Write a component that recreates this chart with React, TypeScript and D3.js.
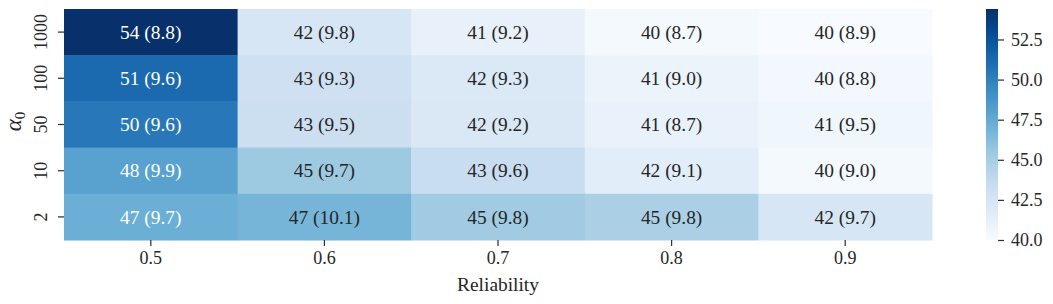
import React, { useEffect, useRef } from 'react';
import * as d3 from 'd3';

// Reliability (columns) and alpha_0 (rows, top to bottom)
const reliability = ['0.5', '0.6', '0.7', '0.8', '0.9'];
const alphas = ['1000', '100', '50', '10', '2'];

// mean accuracy per cell
const means = [
  [54.4, 42.4, 41.1, 40.2, 40.0],
  [51.2, 43.0, 42.0, 40.9, 40.3],
  [50.4, 43.2, 42.1, 41.0, 40.6],
  [48.0, 45.4, 43.4, 41.6, 40.2],
  [47.2, 46.8, 45.3, 44.8, 42.4],
];

// standard deviation shown in brackets
const stds = [
  [8.8, 9.8, 9.2, 8.7, 8.9],
  [9.6, 9.3, 9.3, 9.0, 8.8],
  [9.6, 9.5, 9.2, 8.7, 9.5],
  [9.9, 9.7, 9.6, 9.1, 9.0],
  [9.7, 10.1, 9.8, 9.8, 9.7],
];

const colorbarTicks = [40.0, 42.5, 45.0, 47.5, 50.0, 52.5];

// matplotlib "Blues" anchors
const bluesStops = ['#f7fbff', '#deebf7', '#c6dbef', '#9ecae1', '#6baed6', '#4292c6', '#2171b5', '#08519c', '#08306b'];

const FONT = '"Liberation Serif", "DejaVu Serif", serif';
const TICK_SIZE = '18px';

const App: React.FC = () => {
  const svgRef = useRef<SVGSVGElement>(null);

  useEffect(() => {
    if (!svgRef.current) return;
    const width = 1053;
    const height = 304;
    const svg = d3.select(svgRef.current);
    svg.selectAll('*').remove();
    svg.attr('width', width).attr('height', height);

    const left = 64, right = 932, top = 9, bottom = 240;
    const vmin = 40.0, vmax = 54.4;

    const x = d3.scaleBand().domain(reliability).range([left, right]);
    const y = d3.scaleBand().domain(alphas).range([top, bottom]);

    const t = d3.scaleLinear().domain([vmin, vmax]).range([0, 1]).clamp(true);
    const blues = d3.scaleLinear<string>()
      .domain(bluesStops.map((_, i) => i / (bluesStops.length - 1)))
      .range(bluesStops)
      .interpolate(d3.interpolateRgb);
    const color = (v: number) => blues(t(v));

    const luminance = (c: string) => {
      const rgb = d3.rgb(c);
      const lin = (u: number) => {
        const s = u / 255;
        return s <= 0.03928 ? s / 12.92 : Math.pow((s + 0.055) / 1.055, 2.4);
      };
      return 0.2126 * lin(rgb.r) + 0.7152 * lin(rgb.g) + 0.0722 * lin(rgb.b);
    };

    const cells: { r: number; c: number }[] = [];
    alphas.forEach((_, r) => reliability.forEach((__, c) => cells.push({ r, c })));

    const g = svg.append('g');
    g.selectAll('rect.cell')
      .data(cells)
      .enter()
      .append('rect')
      .attr('x', (d) => x(reliability[d.c])!)
      .attr('y', (d) => y(alphas[d.r])!)
      .attr('width', x.bandwidth() + 0.5)
      .attr('height', y.bandwidth() + 0.5)
      .attr('fill', (d) => color(means[d.r][d.c]));

    g.selectAll('text.annot')
      .data(cells)
      .enter()
      .append('text')
      .attr('x', (d) => x(reliability[d.c])! + x.bandwidth() / 2)
      .attr('y', (d) => y(alphas[d.r])! + y.bandwidth() / 2)
      .attr('dy', '0.35em')
      .attr('text-anchor', 'middle')
      .attr('font-family', FONT)
      .attr('font-size', '19.4px')
      .attr('fill', (d) => (luminance(color(means[d.r][d.c])) <= 0.408 ? '#ffffff' : '#262626'))
      .text((d) => `${Math.round(means[d.r][d.c])} (${stds[d.r][d.c].toFixed(1)})`);

    // x axis
    const xAxis = svg.append('g').attr('transform', `translate(0,${bottom})`)
      .call(d3.axisBottom(x).tickSize(6).tickPadding(5));
    // y axis
    const yAxis = svg.append('g').attr('transform', `translate(${left},0)`)
      .call(d3.axisLeft(y).tickSize(6).tickPadding(4));
    [xAxis, yAxis].forEach((a) => {
      a.select('.domain').remove();
      a.selectAll('line').attr('stroke', '#333333').attr('stroke-width', 1.25);
      a.selectAll('text').attr('font-family', FONT).attr('font-size', TICK_SIZE).attr('fill', '#262626');
    });
    yAxis.selectAll('text')
      .attr('text-anchor', 'middle')
      .attr('x', null)
      .attr('dy', null)
      .attr('y', 0)
      .attr('transform', 'translate(-23,0) rotate(-90)')
      .attr('dominant-baseline', 'central');

    // axis labels
    svg.append('text')
      .attr('x', (left + right) / 2)
      .attr('y', 291)
      .attr('text-anchor', 'middle')
      .attr('font-family', FONT)
      .attr('font-size', '19.4px')
      .attr('fill', '#262626')
      .text('Reliability');

    const yl = svg.append('text')
      .attr('transform', `translate(21,${(top + bottom) / 2 - 3}) rotate(-90)`)
      .attr('text-anchor', 'middle')
      .attr('font-family', FONT)
      .attr('font-size', '23px')
      .attr('fill', '#262626');
    yl.append('tspan').attr('font-style', 'italic').text('α');
    yl.append('tspan').attr('font-size', '15px').attr('dy', 4).text('0');

    // colorbar
    const cbX = 986, cbW = 12;
    const cy = d3.scaleLinear().domain([vmin, vmax]).range([bottom, top]);
    const defs = svg.append('defs');
    const grad = defs.append('linearGradient').attr('id', 'cbgrad')
      .attr('x1', 0).attr('y1', 1).attr('x2', 0).attr('y2', 0);
    d3.range(0, 1.0001, 0.125).forEach((s) => {
      grad.append('stop').attr('offset', s).attr('stop-color', blues(s));
    });
    svg.append('rect')
      .attr('x', cbX)
      .attr('y', top)
      .attr('width', cbW)
      .attr('height', bottom - top)
      .attr('fill', 'url(#cbgrad)');
    const cbAxis = svg.append('g').attr('transform', `translate(${cbX + cbW},0)`)
      .call(d3.axisRight(cy).tickValues(colorbarTicks).tickFormat(d3.format('.1f')).tickSize(6).tickPadding(7));
    cbAxis.select('.domain').remove();
    cbAxis.selectAll('line').attr('stroke', '#333333').attr('stroke-width', 1.25);
    cbAxis.selectAll('text').attr('font-family', FONT).attr('font-size', TICK_SIZE).attr('fill', '#262626');
  }, []);

  return <svg ref={svgRef} style={{ display: 'block', margin: '-8px' }}></svg>;
};

export default App;
